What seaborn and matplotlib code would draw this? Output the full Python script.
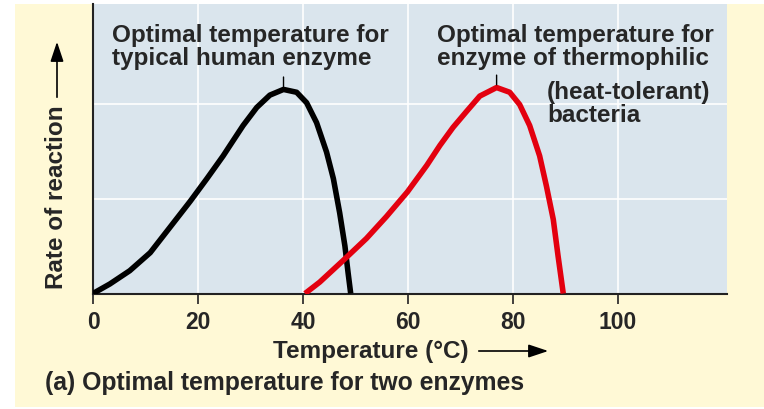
import pandas as pd
import matplotlib.pyplot as plt
import seaborn as sns
from matplotlib.patches import Rectangle, FancyArrowPatch

## Values
human_temp = [0, 3.2, 7.0, 10.9, 14.7, 18.5, 21.7, 24.8, 26.1, 28.6, 31.2, 33.7, 36.3,
              38.8, 40.7, 42.6, 44.5, 45.8, 47.0, 48.0, 48.6, 49.1]
human_rate = [0, 0.10, 0.24, 0.43, 0.70, 0.97, 1.21, 1.45, 1.56, 1.77, 1.96, 2.09, 2.15,
              2.12, 2.01, 1.80, 1.49, 1.21, 0.85, 0.50, 0.22, 0]
thermo_temp = [40.4, 43.2, 47.7, 52.1, 55.9, 59.9, 63.6, 66.1, 68.6, 71.2, 73.7, 76.9,
               79.4, 81.3, 83.2, 85.1, 86.4, 87.7, 88.6, 89.3, 89.6]
thermo_rate = [0, 0.12, 0.35, 0.58, 0.81, 1.07, 1.35, 1.56, 1.75, 1.92, 2.08, 2.17,
               2.12, 1.99, 1.77, 1.45, 1.13, 0.78, 0.40, 0.12, 0]
x_ticks = [0, 20, 40, 60, 80, 100]
y_grid = [1, 2]
human_peak = (36.3, 2.15)
thermo_peak = (76.9, 2.17)

human_df = pd.DataFrame({"Temperature": human_temp, "Rate": human_rate})
thermo_df = pd.DataFrame({"Temperature": thermo_temp, "Rate": thermo_rate})

sns.set_style("white")
plt.rcParams["font.family"] = ["Liberation Sans", "DejaVu Sans"]
plt.rcParams["font.weight"] = "bold"

fig = plt.figure(figsize=(7.64, 4.10), dpi=100, facecolor="white")
# cream panel behind everything
fig.patches.append(Rectangle((15 / 764, 2 / 410), 1, 403 / 410, transform=fig.transFigure,
                             facecolor="#FFF9D6", edgecolor="none", zorder=-5))
ax = fig.add_axes([93 / 764, 115.5 / 410, 634 / 764, 289.5 / 410])
ax.set_facecolor("#DAE5ED")

## Curves
sns.lineplot(data=human_df, x="Temperature", y="Rate", color="black", linewidth=4,
             estimator=None, ax=ax, solid_capstyle="butt", solid_joinstyle="round", zorder=3)
sns.lineplot(data=thermo_df, x="Temperature", y="Rate", color="#E3000F", linewidth=4,
             estimator=None, ax=ax, solid_capstyle="butt", solid_joinstyle="round", zorder=3)

ax.set_xlim(0, 120.8)
ax.set_ylim(0, 3.05)
ax.set_xticks(x_ticks)
ax.set_yticks(y_grid)
ax.set_yticklabels([])
ax.grid(True, color="white", lw=1.2)
ax.tick_params(axis="x", length=7, width=1.2, pad=5, labelsize=16.5, color="#222222",
               direction="out", bottom=True)
ax.tick_params(axis="y", length=0)
for s in ["top", "right"]:
    ax.spines[s].set_visible(False)
for s in ["left", "bottom"]:
    ax.spines[s].set_color("#222222")
    ax.spines[s].set_linewidth(1.5)
ax.set_xlabel("")
ax.set_ylabel("")

## Peak annotations
ax.annotate("", xy=human_peak, xytext=(human_peak[0], human_peak[1] + 0.16),
            arrowprops=dict(arrowstyle="-", color="black", lw=1))
ax.annotate("", xy=thermo_peak, xytext=(thermo_peak[0], thermo_peak[1] + 0.16),
            arrowprops=dict(arrowstyle="-", color="black", lw=1))
fig.text(112 / 764, 1 - 24 / 410, "Optimal temperature for\ntypical human enzyme",
         fontsize=17.5, va="top", ha="left", linespacing=1.02)
fig.text(437 / 764, 1 - 24 / 410, "Optimal temperature for\nenzyme of thermophilic",
         fontsize=17.5, va="top", ha="left", linespacing=1.02)
fig.text(547 / 764, 1 - 81 / 410, "(heat-tolerant)\nbacteria",
         fontsize=17.5, va="top", ha="left", linespacing=1.02)

## Axis titles with arrows
fig.text(273 / 764, 1 - 352 / 410, "Temperature (°C)", fontsize=17.5, va="center", ha="left")
fig.patches.append(FancyArrowPatch(
    (476 / 764, 1 - 352 / 410), (551 / 764, 1 - 352 / 410), transform=fig.transFigure,
    arrowstyle="-|>,head_length=12,head_width=4", color="black", lw=1.2, mutation_scale=1))
fig.text(57 / 764, 1 - 197 / 410, "Rate of reaction", fontsize=17.5, rotation=90,
         va="center", ha="center")
fig.patches.append(FancyArrowPatch(
    (57 / 764, 1 - 101 / 410), (57 / 764, 1 - 40 / 410), transform=fig.transFigure,
    arrowstyle="-|>,head_length=12,head_width=4", color="black", lw=1.2, mutation_scale=1))

fig.text(45 / 764, 1 - 383 / 410, "(a) Optimal temperature for two enzymes", fontsize=17.8,
         va="center", ha="left")

plt.savefig("out.png", dpi=100)
